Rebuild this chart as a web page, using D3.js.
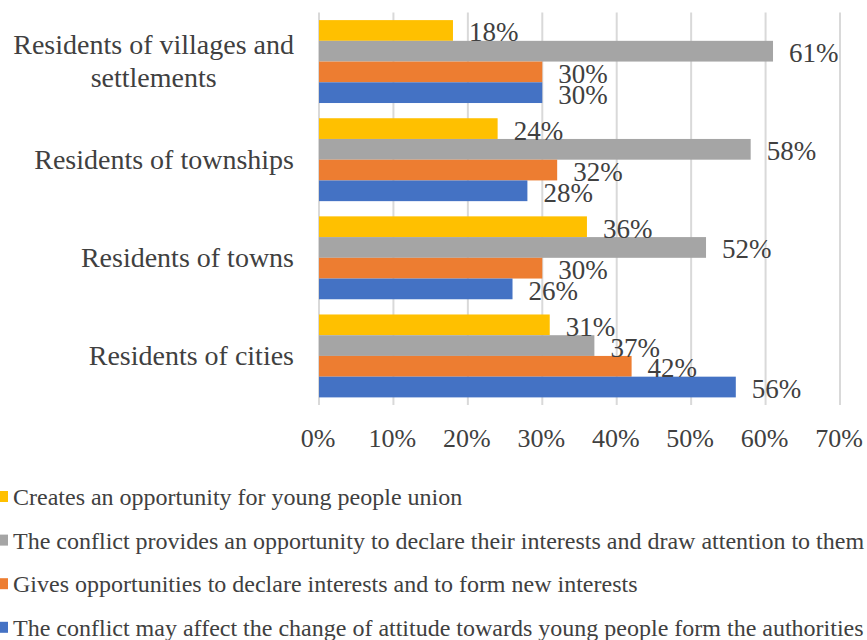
<!DOCTYPE html>
<html>
<head>
<meta charset="utf-8">
<script src="https://cdn.jsdelivr.net/npm/d3@7/dist/d3.min.js"></script>
<style>
html,body{margin:0;padding:0;background:#fff;}
svg{display:block;}
</style>
</head>
<body>
<svg id="chart" width="867" height="640" font-family="'Liberation Serif', 'Times New Roman', 'DejaVu Serif', serif"></svg>
<script>
const categories = [
  ["Residents of villages and", "settlements"],
  ["Residents of townships"],
  ["Residents of towns"],
  ["Residents of cities"]
];
const seriesNames = [
  "Creates an opportunity for young people union",
  "The conflict provides an opportunity to declare their interests and draw attention to them",
  "Gives opportunities to declare interests and to form new interests",
  "The conflict may affect the change of attitude towards young people form the authorities"
];
const seriesColors = ["#FFC000", "#A5A5A5", "#ED7D31", "#4472C4"];
const unionValues     = [0.18, 0.24, 0.36, 0.31];
const declareValues   = [0.61, 0.58, 0.52, 0.37];
const formValues      = [0.30, 0.32, 0.30, 0.42];
const attitudeValues  = [0.30, 0.28, 0.26, 0.56];
const seriesValues = [unionValues, declareValues, formValues, attitudeValues];
const tickValues = [0, 0.1, 0.2, 0.3, 0.4, 0.5, 0.6, 0.7];

const FONT = "'Liberation Serif', 'Times New Roman', 'DejaVu Serif', serif";
const TXT = "#404040";
const svg = d3.select("#chart");
const x = d3.scaleLinear().domain([0, 0.7]).range([319, 840]);
const y = d3.scaleBand().domain(d3.range(categories.length)).range([12.5, 405])
  .paddingInner(0.155).paddingOuter(0.0775);
const ys = d3.scaleBand().domain(d3.range(seriesNames.length)).range([0, y.bandwidth()]);
const fmt = d3.format(".0%");

// gridlines
svg.append("g").selectAll("line").data(tickValues).join("line")
  .attr("x1", d => x(d)).attr("x2", d => x(d))
  .attr("y1", 12.5).attr("y2", 405)
  .attr("stroke", "#D9D9D9").attr("stroke-width", 2);

// bars
const groups = svg.append("g").selectAll("g").data(categories).join("g")
  .attr("transform", (d, i) => `translate(0,${y(i)})`);
groups.each(function(c, ci) {
  const g = d3.select(this);
  seriesValues.forEach((vals, si) => {
    g.append("rect")
      .attr("x", x(0)).attr("y", ys(si))
      .attr("width", x(vals[ci]) - x(0)).attr("height", ys.bandwidth())
      .attr("fill", seriesColors[si]);
  });
  seriesValues.forEach((vals, si) => {
    g.append("text")
      .attr("x", x(vals[ci]) + 16)
      .attr("y", ys(si) + ys.bandwidth() / 2 + 11)
      .attr("font-family", FONT).attr("fill", TXT)
      .attr("font-size", 27)
      .text(fmt(vals[ci]));
  });
});

// category labels
categories.forEach((lines, ci) => {
  const t = svg.append("text").attr("font-size", 28).attr("text-anchor", "middle")
    .attr("font-family", FONT).attr("fill", TXT);
  const n = lines.length;
  const cy = y(ci) + y.bandwidth() / 2 + 9;
  lines.forEach((ln, li) => {
    t.append("tspan").attr("y", cy + (li - (n - 1) / 2) * 32.4).text(ln);
  });
  let maxW = 0;
  t.selectAll("tspan").each(function() { maxW = Math.max(maxW, this.getComputedTextLength()); });
  t.selectAll("tspan").attr("x", 294 - maxW / 2);
});

// x tick labels
svg.append("g").selectAll("text").data(tickValues).join("text")
  .attr("x", d => x(d) - 1).attr("y", 447)
  .attr("text-anchor", "middle").attr("font-size", 26)
  .attr("font-family", FONT).attr("fill", TXT)
  .text(d => fmt(d));

// legend
const leg = svg.append("g").selectAll("g").data(seriesNames).join("g")
  .attr("transform", (d, i) => `translate(0,${505 + i * 43.6})`);
leg.append("rect").attr("x", -2).attr("y", -14).attr("width", 10).attr("height", 11)
  .attr("fill", (d, i) => seriesColors[i]);
leg.append("text").attr("x", 13).attr("y", 0).attr("font-size", 24)
  .attr("font-family", FONT).attr("fill", TXT).text(d => d);
</script>
</body>
</html>
